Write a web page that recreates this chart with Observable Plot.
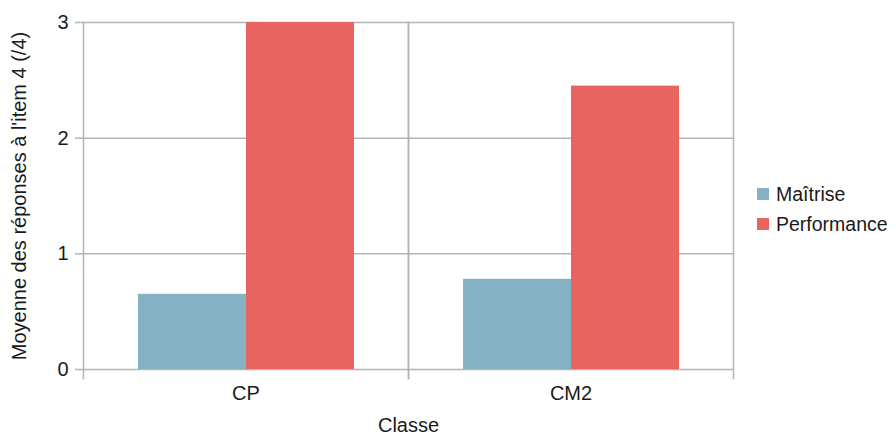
<!DOCTYPE html>
<html>
<head>
<meta charset="utf-8">
<script src="https://cdn.jsdelivr.net/npm/d3@7"></script>
<script src="https://cdn.jsdelivr.net/npm/@observablehq/plot@0.6"></script>
<style>
  html, body { margin: 0; padding: 0; background: #fff; }
  #wrap { position: relative; width: 896px; height: 434px; font-family: "Liberation Sans", Arial, sans-serif; color: #1a1a1a; }
  #legend { position: absolute; left: 757px; top: 179px; font-size: 19.5px; line-height: 30px; }
  .item { display: flex; align-items: center; white-space: nowrap; }
  .sw { width: 12px; height: 12px; margin-right: 7px; display: inline-block; }
</style>
</head>
<body>
<div id="wrap"><div id="legend"></div></div>
<script>
const classes = ["CP", "CM2"];
const series = ["Maîtrise", "Performance"];
const maitrise = [0.65, 0.78];
const performance = [3.0, 2.45];
const yTicks = [0, 1, 2, 3];
const colors = ["#84b1c4", "#e8645f"];
const gridColor = "#b3b3b3";

const data = [];
classes.forEach((c, i) => {
  data.push({classe: c, serie: series[0], valeur: maitrise[i]});
  data.push({classe: c, serie: series[1], valeur: performance[i]});
});

const chart = Plot.plot({
  width: 896,
  height: 434,
  marginLeft: 82,
  marginRight: 163,
  marginTop: 22,
  marginBottom: 65,
  style: {fontFamily: "Liberation Sans, Arial, sans-serif", fontSize: "20px", color: "#1a1a1a", background: "#fff"},
  fx: {domain: classes, padding: 0},
  x: {domain: series, paddingInner: 0, paddingOuter: 0.5, axis: null},
  y: {domain: [0, 3]},
  color: {domain: series, range: colors},
  marks: [
    Plot.gridY(yTicks, {stroke: gridColor, strokeOpacity: 1, strokeWidth: 1.5}),
    Plot.barY(data, {fx: "classe", x: "serie", y: "valeur", fill: "serie"}),
    Plot.frame({anchor: "left", stroke: gridColor, strokeWidth: 1.5, insetBottom: -9}),
    Plot.frame({anchor: "right", stroke: gridColor, strokeWidth: 1.5, insetBottom: -9}),
    Plot.axisY(yTicks, {tickSize: 8, tickPadding: 7, stroke: gridColor, strokeWidth: 1.5, fontSize: 20,
      tickFormat: d3.format("d"),
      label: "Moyenne des réponses à l'item 4 (/4)", labelArrow: "none", labelAnchor: "center", labelOffset: 72}),
    Plot.axisFx({anchor: "bottom", tickSize: 0, tickPadding: 16, fontSize: 20,
      label: "Classe", labelArrow: "none", labelAnchor: "center", labelOffset: 62})
  ]
});
document.getElementById("wrap").prepend(chart);

const legend = document.getElementById("legend");
series.forEach((s, i) => {
  const it = document.createElement("div");
  it.className = "item";
  const sw = document.createElement("span");
  sw.className = "sw";
  sw.style.background = colors[i];
  it.appendChild(sw);
  it.appendChild(document.createTextNode(s));
  legend.appendChild(it);
});
</script>
</body>
</html>
